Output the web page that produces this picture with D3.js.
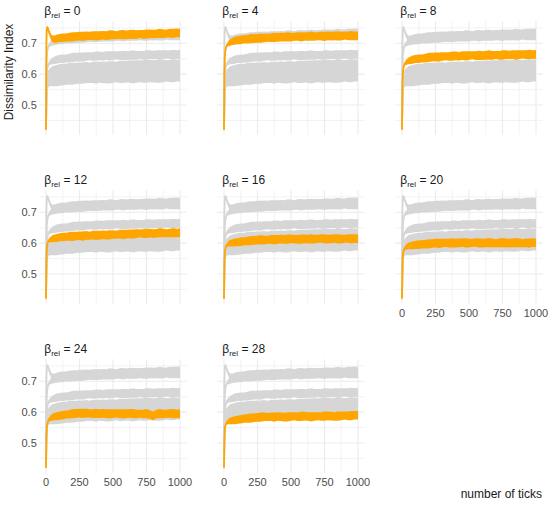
<!DOCTYPE html>
<html>
<head>
<meta charset="utf-8">
<script src="https://cdn.jsdelivr.net/npm/d3@7"></script>
<style>
  body { margin: 0; background: #fff; }
  text { font-family: "Liberation Sans", Arial, sans-serif; }
  .tick-label { font-size: 11px; fill: #4d4d4d; }
  .strip { font-size: 12px; fill: #1a1a1a; }
  .axis-title { font-size: 12px; fill: #1a1a1a; }
</style>
</head>
<body>
<svg id="chart"></svg>
<script>
// beta_rel value of each facet
var betas = [0, 4, 8, 12, 16, 20, 24, 28]

// simulation ticks where the values were read
var ticks = [0, 3, 6, 10, 15, 20, 30, 40, 50, 65, 80, 100,
  125, 150, 175, 200, 225, 250, 275, 300, 325, 350, 375, 400, 425, 450, 475, 500,
  525, 550, 575, 600, 625, 650, 675, 700, 725, 750, 775, 800, 825, 850, 875, 900,
  925, 950, 975, 1000]

// half width of the noise band around each run
var spread = [0, 0.002, 0.003, 0.004, 0.005, 0.006, 0.008, 0.010, 0.011, 0.012, 0.013, 0.013,
  0.014, 0.013, 0.014, 0.015, 0.014, 0.014, 0.015, 0.014, 0.013, 0.014, 0.015, 0.014, 0.014, 0.014, 0.015, 0.014,
  0.013, 0.014, 0.015, 0.014, 0.014, 0.015, 0.014, 0.013, 0.014, 0.015, 0.014, 0.014, 0.014, 0.015, 0.014, 0.013,
  0.014, 0.015, 0.014, 0.014]

// dissimilarity index per beta_rel
var di0 = [0.42, 0.70, 0.745, 0.752, 0.748, 0.740, 0.728, 0.718, 0.714, 0.713, 0.715, 0.717,
  0.718, 0.719, 0.720, 0.721, 0.722, 0.723, 0.722, 0.724, 0.724, 0.725, 0.724, 0.725, 0.726, 0.725, 0.727, 0.727,
  0.726, 0.728, 0.728, 0.727, 0.729, 0.729, 0.728, 0.730, 0.729, 0.730, 0.731, 0.730, 0.731, 0.732, 0.731, 0.732,
  0.733, 0.732, 0.734, 0.733]
var di4 = [0.42, 0.60, 0.655, 0.675, 0.686, 0.692, 0.698, 0.701, 0.704, 0.706, 0.708, 0.710,
  0.711, 0.713, 0.713, 0.715, 0.715, 0.716, 0.717, 0.717, 0.718, 0.718, 0.719, 0.719, 0.720, 0.720, 0.721, 0.720,
  0.721, 0.722, 0.721, 0.722, 0.722, 0.723, 0.722, 0.723, 0.723, 0.722, 0.724, 0.723, 0.724, 0.724, 0.723, 0.725,
  0.724, 0.725, 0.724, 0.724]
var di8 = [0.42, 0.56, 0.60, 0.618, 0.627, 0.633, 0.638, 0.641, 0.643, 0.645, 0.647, 0.649,
  0.650, 0.651, 0.652, 0.654, 0.655, 0.656, 0.655, 0.657, 0.658, 0.657, 0.658, 0.659, 0.658, 0.660, 0.659, 0.660,
  0.661, 0.660, 0.661, 0.660, 0.661, 0.662, 0.661, 0.662, 0.661, 0.662, 0.663, 0.662, 0.663, 0.662, 0.663, 0.664,
  0.663, 0.664, 0.663, 0.664]
var di12 = [0.42, 0.54, 0.58, 0.597, 0.604, 0.608, 0.611, 0.613, 0.615, 0.616, 0.617, 0.619,
  0.620, 0.621, 0.622, 0.622, 0.623, 0.624, 0.623, 0.625, 0.624, 0.626, 0.625, 0.626, 0.627, 0.626, 0.627, 0.628,
  0.627, 0.629, 0.628, 0.629, 0.630, 0.629, 0.631, 0.632, 0.631, 0.632, 0.633, 0.631, 0.632, 0.634, 0.633, 0.632,
  0.633, 0.634, 0.633, 0.634]
var di16 = [0.42, 0.53, 0.568, 0.583, 0.590, 0.594, 0.597, 0.599, 0.600, 0.601, 0.602, 0.603,
  0.605, 0.606, 0.607, 0.608, 0.609, 0.610, 0.611, 0.610, 0.611, 0.612, 0.611, 0.612, 0.613, 0.612, 0.613, 0.614,
  0.613, 0.612, 0.613, 0.614, 0.613, 0.614, 0.613, 0.614, 0.615, 0.614, 0.613, 0.614, 0.615, 0.614, 0.613, 0.614,
  0.615, 0.614, 0.615, 0.614]
var di20 = [0.42, 0.52, 0.558, 0.572, 0.579, 0.583, 0.587, 0.589, 0.591, 0.592, 0.593, 0.594,
  0.595, 0.596, 0.597, 0.598, 0.599, 0.600, 0.599, 0.600, 0.601, 0.600, 0.601, 0.600, 0.601, 0.602, 0.601, 0.600,
  0.601, 0.602, 0.601, 0.600, 0.601, 0.602, 0.601, 0.600, 0.601, 0.602, 0.601, 0.600, 0.601, 0.602, 0.601, 0.600,
  0.601, 0.600, 0.602, 0.601]
var di24 = [0.42, 0.515, 0.55, 0.563, 0.570, 0.575, 0.579, 0.582, 0.584, 0.586, 0.587, 0.588,
  0.590, 0.592, 0.593, 0.595, 0.596, 0.597, 0.596, 0.597, 0.596, 0.595, 0.596, 0.595, 0.596, 0.595, 0.594, 0.595,
  0.596, 0.595, 0.594, 0.595, 0.596, 0.595, 0.594, 0.595, 0.594, 0.595, 0.592, 0.588, 0.594, 0.595, 0.594, 0.595,
  0.596, 0.595, 0.594, 0.595]
var di28 = [0.42, 0.51, 0.545, 0.556, 0.562, 0.566, 0.569, 0.571, 0.572, 0.573, 0.574, 0.575,
  0.577, 0.579, 0.580, 0.581, 0.582, 0.583, 0.584, 0.585, 0.584, 0.585, 0.584, 0.586, 0.585, 0.584, 0.585, 0.586,
  0.587, 0.585, 0.586, 0.587, 0.586, 0.585, 0.586, 0.587, 0.586, 0.587, 0.588, 0.587, 0.586, 0.587, 0.588, 0.589,
  0.588, 0.589, 0.590, 0.590]

var runs = [di0, di4, di8, di12, di16, di20, di24, di28]

var xMajor = [0, 250, 500, 750, 1000]
var xMinor = [125, 375, 625, 875]
var yMajor = [0.5, 0.6, 0.7]
var yMinor = [0.45, 0.55, 0.65, 0.75]

var screen = {width: 550, height: 507}
var panel = {width: 147.4, height: 113.6}
var colLeft = [39.3, 217.3, 395.3]
var rowTop = [21.2, 190.2, 359.2]

var svg = d3.select("#chart")
    .attr("width", screen.width)
    .attr("height", screen.height)

var xScale = d3.scaleLinear()
    .domain([-50, 1050])
    .range([0, panel.width])
var yScale = d3.scaleLinear()
    .domain([0.4035, 0.7715])
    .range([panel.height, 0])

var toPoints = function(run)
{
    return ticks.map(function(t, i){
        return {t: t, v: run[i], s: spread[i]}
    })
}

var band = d3.area()
    .x(function(d){return xScale(d.t)})
    .y0(function(d){return yScale(d.v - d.s)})
    .y1(function(d){return yScale(d.v + d.s)})
var line = d3.line()
    .x(function(d){return xScale(d.t)})
    .y(function(d){return yScale(d.v)})

var drawRun = function(g, run, colour)
{
    var pts = toPoints(run)
    g.append("path")
        .datum(pts)
        .attr("d", band)
        .attr("fill", colour)
    g.append("path")
        .datum(pts)
        .attr("d", line)
        .attr("fill", "none")
        .attr("stroke", colour)
        .attr("stroke-width", 1.8)
        .attr("stroke-linejoin", "round")
}

betas.forEach(function(beta, k)
{
    var col = k % 3
    var row = Math.floor(k / 3)
    var g = svg.append("g")
        .attr("transform", "translate(" + colLeft[col] + "," + rowTop[row] + ")")

    // grid
    var grid = g.append("g").attr("stroke", "#ebebeb").attr("fill", "none")
    grid.selectAll(".vmin").data(xMinor).enter().append("line")
        .attr("x1", xScale).attr("x2", xScale)
        .attr("y1", 0).attr("y2", panel.height)
        .attr("stroke-width", 0.6)
    grid.selectAll(".hmin").data(yMinor).enter().append("line")
        .attr("y1", yScale).attr("y2", yScale)
        .attr("x1", 0).attr("x2", panel.width)
        .attr("stroke-width", 0.6)
    grid.selectAll(".vmaj").data(xMajor).enter().append("line")
        .attr("x1", xScale).attr("x2", xScale)
        .attr("y1", 0).attr("y2", panel.height)
        .attr("stroke-width", 1.1)
    grid.selectAll(".hmaj").data(yMajor).enter().append("line")
        .attr("y1", yScale).attr("y2", yScale)
        .attr("x1", 0).attr("x2", panel.width)
        .attr("stroke-width", 1.1)

    // all runs in grey, then the facet's own run in orange
    runs.forEach(function(run, j){
        if (j != k) drawRun(g, run, "#d6d6d6")
    })
    drawRun(g, runs[k], "#ffa500")

    // strip title
    var title = g.append("text")
        .classed("strip", true)
        .attr("x", 5)
        .attr("y", -6)
    title.append("tspan").text("\u03b2")
    title.append("tspan").text("rel").attr("font-size", "8px").attr("dy", 3)
    title.append("tspan").text(" = " + beta).attr("dy", -3)

    // y tick labels on the first column
    if (col == 0)
    {
        g.selectAll(".ylab").data(yMajor).enter().append("text")
            .classed("tick-label", true)
            .attr("x", -2.5)
            .attr("y", function(d){return yScale(d) + 4})
            .attr("text-anchor", "end")
            .text(d3.format(".1f"))
    }
    // x tick labels on the lowest panel of each column
    if (k + 3 >= betas.length)
    {
        g.selectAll(".xlab").data(xMajor).enter().append("text")
            .classed("tick-label", true)
            .attr("x", xScale)
            .attr("y", panel.height + 13.5)
            .attr("text-anchor", "middle")
            .text(function(d){return d})
    }
})

svg.append("text")
    .classed("axis-title", true)
    .attr("text-anchor", "middle")
    .attr("transform", "translate(13,72) rotate(-90)")
    .text("Dissimilarity Index")

svg.append("text")
    .classed("axis-title", true)
    .attr("text-anchor", "end")
    .attr("font-size", "12.5px")
    .attr("x", 542)
    .attr("y", 498)
    .text("number of ticks")
</script>
</body>
</html>
